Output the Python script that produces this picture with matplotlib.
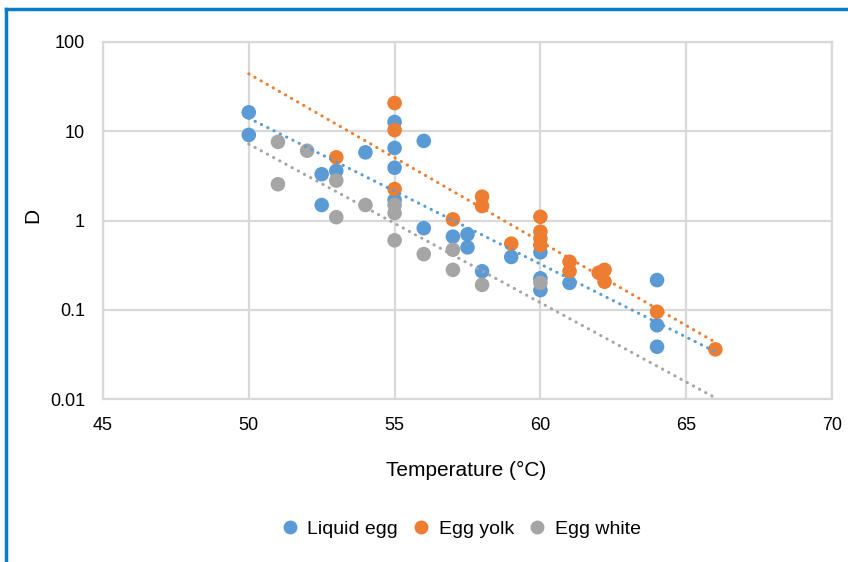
import numpy as np
import matplotlib
matplotlib.use("Agg")
import matplotlib.pyplot as plt
from matplotlib.lines import Line2D

plt.rcParams['font.family'] = ['Liberation Sans', 'DejaVu Sans']

# D-values (log scale)
liquid_t = [50, 50, 52.5, 52.5, 53, 54, 55, 55, 55, 55, 56, 56, 57, 57.5, 57.5,
            58, 59, 60, 60, 60, 61, 64, 64, 64]
liquid_d = [16.3, 9.1, 3.3, 1.49, 3.6, 5.8, 12.7, 6.5, 3.9, 1.7, 7.8, 0.82, 0.66, 0.70, 0.50,
            0.27, 0.39, 0.44, 0.225, 0.166, 0.20, 0.215, 0.067, 0.0385]

yolk_t = [53, 55, 55, 55, 57, 58, 58, 59, 60, 60, 60, 60, 61, 61, 62, 62.2, 62.2, 64, 66]
yolk_d = [5.1, 20.7, 10.3, 2.25, 1.03, 1.85, 1.45, 0.55, 1.10, 0.75, 0.63, 0.53,
          0.345, 0.27, 0.26, 0.28, 0.206, 0.095, 0.036]

white_t = [51, 51, 52, 53, 53, 54, 55, 55, 55, 56, 57, 57, 58, 60]
white_d = [7.6, 2.55, 6.05, 2.8, 1.09, 1.49, 1.49, 1.21, 0.60, 0.42, 0.47, 0.28, 0.19, 0.20]

series = [("Liquid egg", liquid_t, liquid_d, "#5B9BD5"),
          ("Egg yolk", yolk_t, yolk_d, "#ED7D31"),
          ("Egg white", white_t, white_d, "#A5A5A5")]

fig = plt.figure(figsize=(8.48, 5.62), dpi=100)
ax = fig.add_axes([103 / 848, 1 - 399 / 562, (832 - 103) / 848, (399 - 42) / 562])

# trend line range covers all measured temperatures
tmin = min(liquid_t + yolk_t + white_t) * 1.0
tmax = max(liquid_t + yolk_t + white_t) * 1.0
tt = np.linspace(tmin, tmax, 50)

for name, t, d, col in series:
    ax.scatter(t, d, s=110, color=col, edgecolors='none', zorder=3, label=name)
for name, t, d, col in series:
    k, b = np.polyfit(t, np.log10(d), 1)
    ax.plot(tt, 10 ** (k * tt + b), color=col, lw=2.2, linestyle=(0, (0.1, 2.2)),
            dash_capstyle='round', zorder=4)

ax.set_yscale('log')
ax.set_xlim(45, 70)
ax.set_ylim(0.01, 100)
ax.set_xticks([45, 50, 55, 60, 65, 70])
ax.set_yticks([0.01, 0.1, 1, 10, 100])
ax.set_yticklabels(["0.01", "0.1", "1", "10", "100"])
ax.minorticks_off()
ax.grid(True, color='#D9D9D9', lw=1.6)
ax.set_axisbelow(True)
for s in ax.spines.values():
    s.set_color('#D9D9D9')
    s.set_linewidth(1.6)
ax.tick_params(length=0, labelsize=13)
ax.tick_params(axis='x', pad=13)
ax.tick_params(axis='y', pad=13)
ax.set_xlabel("Temperature (°C)", fontsize=15)
ax.set_ylabel("D", fontsize=15)
ax.xaxis.set_label_coords((466 - 103) / 729, -(470 - 399) / 357)
ax.yaxis.set_label_coords(-(103 - 33) / 729, (399 - 215) / 357)
ax.yaxis.label.set_va('center')
ax.xaxis.label.set_va('center')

handles = [Line2D([], [], marker='o', ls='none', color=c, markersize=9) for _, _, _, c in series]
fig.legend(handles, [s[0] for s in series], loc='center', bbox_to_anchor=(0.543, 1 - 529 / 562),
           ncol=3, frameon=False, fontsize=14, handlelength=1.0, handletextpad=0.4,
           columnspacing=0.7)

# blue frame around the figure (left and top edges visible)
fig.add_artist(Line2D([6 / 848, 6 / 848], [0, 1 - 9 / 562], color='#0A7CC8', lw=2.5))
fig.add_artist(Line2D([6 / 848, 1], [1 - 9 / 562, 1 - 9 / 562], color='#0A7CC8', lw=2.5))

fig.savefig("out.png", dpi=100)
